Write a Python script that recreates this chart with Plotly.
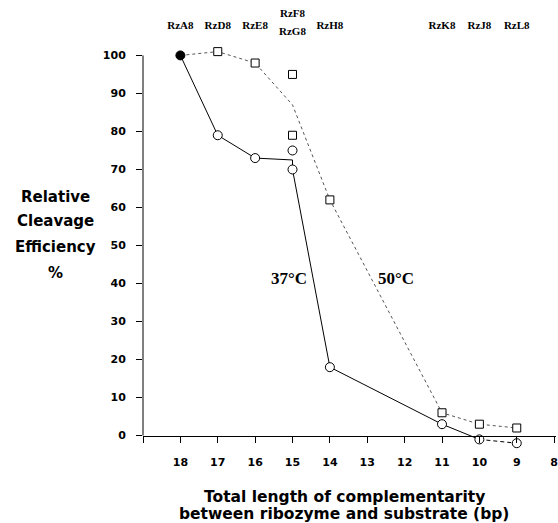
import plotly.graph_objects as go

# ---- data ----
ribozymes = ["RzA8", "RzD8", "RzE8", "RzF8", "RzG8", "RzH8", "RzK8", "RzJ8", "RzL8"]
ribozyme_bp = [18, 17, 16, 15, 15, 14, 11, 10, 9]

# 37 °C (circles, solid line)
line37_x = [18, 17, 16, 15, 15, 14, 11, 10]
line37_y = [100, 79, 73, 72.5, 70, 18, 3, -1]
tail37_x = [10, 9]
tail37_y = [-1, -2]
pts37_x = [17, 16, 15, 15, 14, 11, 10, 9]
pts37_y = [79, 73, 70, 75, 18, 3, -1, -2]

# 50 °C (squares, dotted line)
line50_x = [18, 17, 16, 15, 14, 11, 10, 9]
line50_y = [100, 101, 98, 87, 62, 6, 3, 2]
pts50_x = [17, 16, 15, 15, 14, 11, 10, 9]
pts50_y = [101, 98, 95, 79, 62, 6, 3, 2]

# shared starting point (filled)
ref_x = [18]
ref_y = [100]

x_ticks = [19, 18, 17, 16, 15, 14, 13, 12, 11, 10, 9, 8]
x_ticktext = ["", "18", "17", "16", "15", "14", "13", "12", "11", "10", "9", "8"]
y_ticks = [0, 10, 20, 30, 40, 50, 60, 70, 80, 90, 100]

# ---- figure ----
YMIN, YMAX = -3, 113
XMAX, XMIN = 19, 7.95
fig = go.Figure()

fig.add_trace(go.Scatter(x=line50_x, y=line50_y, mode="lines",
                         line=dict(color="#555555", width=1, dash="dot"),
                         hoverinfo="skip", showlegend=False))
fig.add_trace(go.Scatter(x=line37_x, y=line37_y, mode="lines",
                         line=dict(color="black", width=1),
                         hoverinfo="skip", showlegend=False))
fig.add_trace(go.Scatter(x=tail37_x, y=tail37_y, mode="lines",
                         line=dict(color="black", width=1, dash="4px,3px"),
                         hoverinfo="skip", showlegend=False))
fig.add_trace(go.Scatter(x=pts50_x, y=pts50_y, mode="markers", cliponaxis=False,
                         marker=dict(symbol="square", size=8, color="white",
                                     line=dict(color="black", width=1)),
                         showlegend=False))
fig.add_trace(go.Scatter(x=pts37_x, y=pts37_y, mode="markers", cliponaxis=False,
                         marker=dict(symbol="circle", size=9, color="white",
                                     line=dict(color="black", width=1)),
                         showlegend=False))
fig.add_trace(go.Scatter(x=ref_x, y=ref_y, mode="markers", cliponaxis=False,
                         marker=dict(symbol="circle", size=9, color="black",
                                     line=dict(color="black", width=1)),
                         showlegend=False))

# ribozyme labels along the top
lab_y = []
groups = {}
for bp in ribozyme_bp:
    groups[bp] = groups.get(bp, 0) + 1
counter = {}
for bp in ribozyme_bp:
    k = counter.get(bp, 0)
    counter[bp] = k + 1
    if groups[bp] == 1:
        lab_y.append(107.7)
    else:
        lab_y.append(110.9 if k == 0 else 106.2)
fig.add_trace(go.Scatter(x=ribozyme_bp, y=lab_y, mode="text", text=ribozymes,
                         textposition="middle center", cliponaxis=False,
                         textfont=dict(family="Liberation Serif", size=11, color="black",
                                       weight="bold"),
                         hoverinfo="skip", showlegend=False))

annotations = []
# temperature labels
annotations.append(dict(x=15.1, y=41.4, xref="x", yref="y", text="<b>37°C</b>",
                        showarrow=False, font=dict(family="Liberation Serif", size=17, color="black")))
annotations.append(dict(x=12.24, y=41.4, xref="x", yref="y", text="<b>50°C</b>",
                        showarrow=False, font=dict(family="Liberation Serif", size=17, color="black")))

# y-axis title (stacked lines)
ytitle_font = dict(family="DejaVu Sans", size=15, color="black")
for txt, yy in [("Relative", 62.7), ("Cleavage", 56.4), ("Efficiency", 49.6), ("%", 42.8)]:
    annotations.append(dict(x=-0.212, y=yy, xref="paper", yref="y", text="<b>%s</b>" % txt,
                            showarrow=False, xanchor="center", yanchor="middle", font=ytitle_font))

# x-axis title
annotations.append(dict(x=0.487, y=-0.1134, xref="paper", yref="paper",
                        text="<b>Total length of complementarity</b>",
                        showarrow=False, xanchor="center", yanchor="middle",
                        font=dict(family="DejaVu Sans", size=15.5, color="black")))
annotations.append(dict(x=0.487, y=-0.1519, xref="paper", yref="paper",
                        text="<b>between ribozyme and substrate (bp)</b>",
                        showarrow=False, xanchor="center", yanchor="middle",
                        font=dict(family="DejaVu Sans", size=15.5, color="black")))

fig.update_layout(
    width=558, height=523,
    margin=dict(l=143, r=0, t=6, b=76),
    paper_bgcolor="white", plot_bgcolor="white",
    annotations=annotations,
    shapes=[dict(type="line", xref="paper", yref="y", x0=0, x1=0, y0=0, y1=100,
                 line=dict(color="black", width=1))],
    showlegend=False,
)

fig.update_xaxes(range=[XMAX, XMIN], tickmode="array", tickvals=x_ticks, ticktext=x_ticktext,
                 showgrid=False, zeroline=False, showline=True, linecolor="black", linewidth=1,
                 ticks="outside", ticklen=6, tickcolor="black", tickwidth=1,
                 anchor="free", position=(0 - YMIN) / (YMAX - YMIN),
                 ticklabelstandoff=10, ticklabeloverflow="allow",
                 tickfont=dict(family="DejaVu Sans", size=11, color="black", weight="bold"))
fig.update_yaxes(range=[YMIN, YMAX], domain=[0, 1], tickmode="array", tickvals=y_ticks,
                 showgrid=False, zeroline=False, showline=False,
                 ticks="outside", ticklen=6, tickcolor="black", tickwidth=1,
                 ticklabelstandoff=8,
                 tickfont=dict(family="DejaVu Sans", size=11, color="black", weight="bold"))

fig.write_html("out.html", config={"displayModeBar": False},
               post_script="document.body.style.margin='0';document.body.style.overflow='hidden';")
